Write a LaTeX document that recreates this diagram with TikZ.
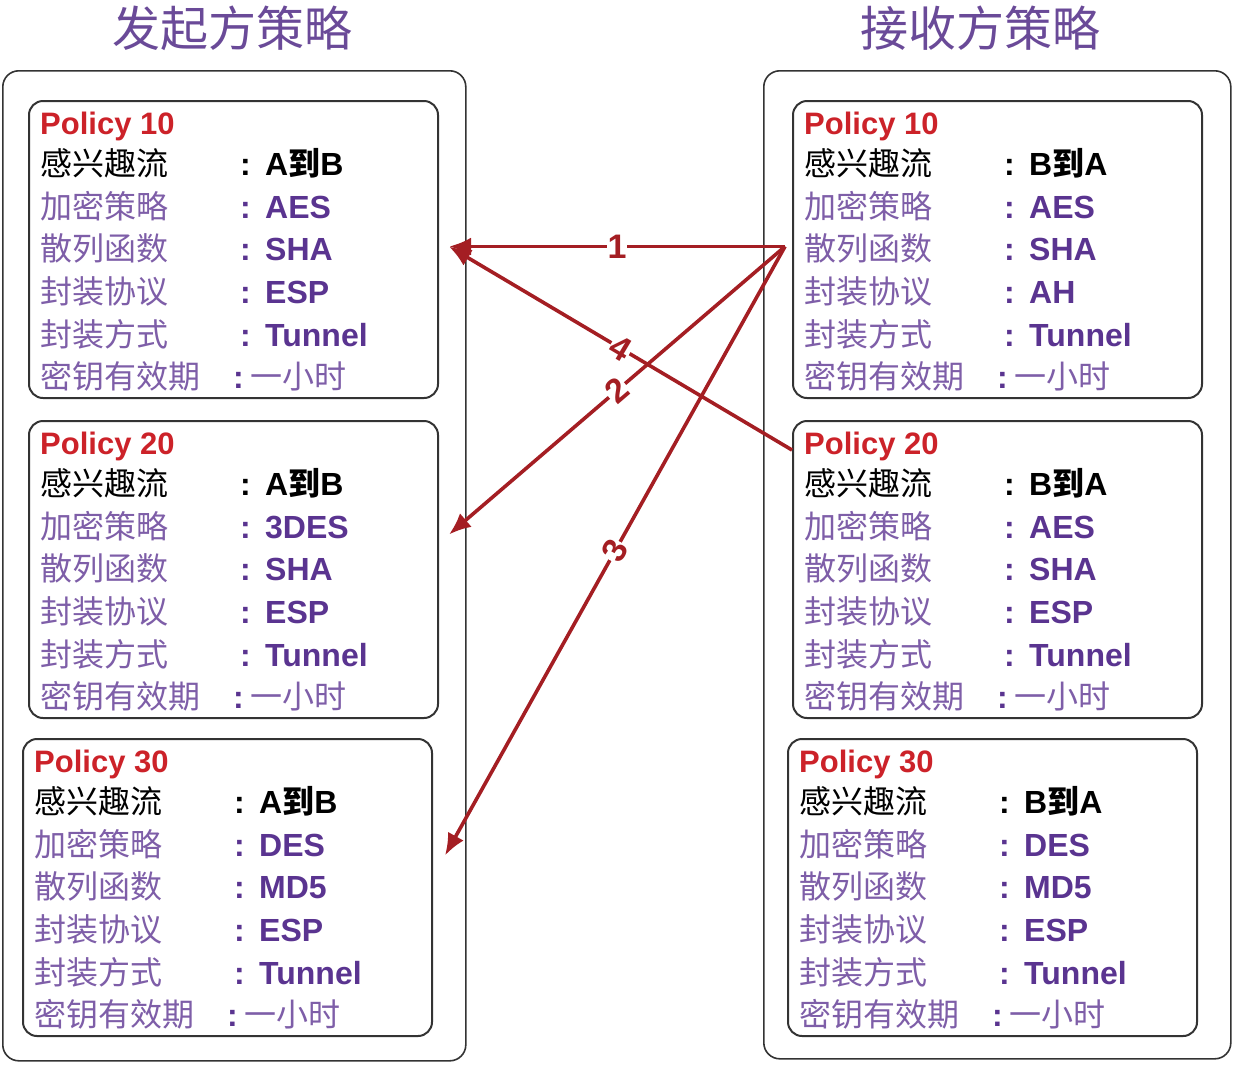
\documentclass[tikz,border=0pt]{standalone}
\usepackage{fontspec}
\setmainfont{Liberation Sans}
\newfontfamily\cjk{Noto Sans CJK SC}
\usepackage{xcolor}
\usepackage{tikz}
\usetikzlibrary{arrows.meta,calc}

\definecolor{titlepurple}{HTML}{6A4A98}
\definecolor{lblpurple}{HTML}{7E5EA8}
\definecolor{valpurple}{HTML}{5A3490}
\definecolor{polred}{HTML}{CC2229}
\definecolor{arrred}{HTML}{A41E23}

% one row: name, x, y, label, value, extra style
\newcommand{\policyrow}[6]{%
  \node[lbl, #6] (#1-lbl) at ({#2},{#3}) {#4};
  \node[colon, #6] (#1-col) at ({#2+200},{#3}) {:};
  \node[val, #6] (#1-val) at ({#2+225},{#3}) {#5};}

% one policy: name, x, y, number, flow, cipher, hash, protocol
\newcommand{\policyblock}[8]{%
  \node[policy] (#1) at (#2,#3) {};
  \node[head] (#1-head) at ({#2+12},{#3+34}) {Policy #4};
  \policyrow{#1-flow}{#2+12}{#3+75}{感兴趣流}{#5}{text=black}
  \policyrow{#1-enc}{#2+12}{#3+118}{加密策略}{#6}{}
  \policyrow{#1-hash}{#2+12}{#3+160}{散列函数}{#7}{}
  \policyrow{#1-proto}{#2+12}{#3+203}{封装协议}{#8}{}
  \policyrow{#1-mode}{#2+12}{#3+246}{封装方式}{Tunnel}{}
  \node[lbl] (#1-life-lbl) at ({#2+12},{#3+288}) {密钥有效期};
  \node[colon] (#1-life-col) at ({#2+205},{#3+288}) {:};
  \node[lbl] (#1-life-val) at ({#2+222},{#3+288}) {一小时};}

\begin{document}
\begin{tikzpicture}[
  x=1pt,y=-1pt,
  frame/.style={draw=black!80, line width=1.6pt, rounded corners=16pt, anchor=north west, inner sep=0pt},
  policy/.style={draw=black!80, line width=2pt, rounded corners=14pt, anchor=north west, inner sep=0pt, minimum width=409pt, minimum height=297pt},
  title/.style={font=\cjk\fontsize{48}{52}\selectfont, text=titlepurple},
  head/.style={anchor=base west, inner sep=0pt, font=\bfseries\fontsize{31}{34}\selectfont, text=polred},
  lbl/.style={anchor=base west, inner sep=0pt, font=\cjk\fontsize{32}{36}\selectfont, text=lblpurple},
  colon/.style={anchor=base west, inner sep=0pt, font=\bfseries\fontsize{32}{36}\selectfont, text=valpurple},
  val/.style={colon},
  arrow/.style={-{Latex[length=22pt,width=18pt]}, line width=3.6pt, draw=arrred},
  num/.style={font=\bfseries\fontsize{34}{36}\selectfont, text=arrred, fill=white, inner sep=1pt, sloped}
]
\useasboundingbox (0,0) rectangle (1238,1066);
\node[title] (init) at (232,28) {发起方策略};
\node[title] (resp) at (980,28) {接收方策略};
\node[frame, minimum width=463pt, minimum height=990pt] (left) at (2,70) {};
\node[frame, minimum width=467pt, minimum height=988pt] (right) at (763,70) {};

\policyblock{l10}{28}{100}{10}{A{\cjk 到}B}{AES}{SHA}{ESP}
\policyblock{l20}{28}{420}{20}{A{\cjk 到}B}{3DES}{SHA}{ESP}
\policyblock{l30}{22}{738}{30}{A{\cjk 到}B}{DES}{MD5}{ESP}
\policyblock{r10}{792}{100}{10}{B{\cjk 到}A}{AES}{SHA}{AH}
\policyblock{r20}{792}{420}{20}{B{\cjk 到}A}{AES}{SHA}{ESP}
\policyblock{r30}{787}{738}{30}{B{\cjk 到}A}{DES}{MD5}{ESP}

\coordinate (src) at ([xshift=-7pt,yshift=3pt]r10.west);
\coordinate (src4) at ([yshift=-30pt]r20.north west);
\coordinate (t1) at ([xshift=10pt,yshift=3pt]l10.east);
\coordinate (t2) at ([xshift=10pt,yshift=35pt]l20.east);
\coordinate (t3) at ([xshift=12pt,yshift=32pt]l30.east);
\draw[arrow] (src) -- node[num] (n1) {1} (t1);
\draw[arrow] (src4) -- node[num] (n4) {4} (t1);
\draw[arrow] (src) -- node[num] (n2) {2} (t2);
\draw[arrow] (src) -- node[num] (n3) {3} (t3);
\end{tikzpicture}
\end{document}
